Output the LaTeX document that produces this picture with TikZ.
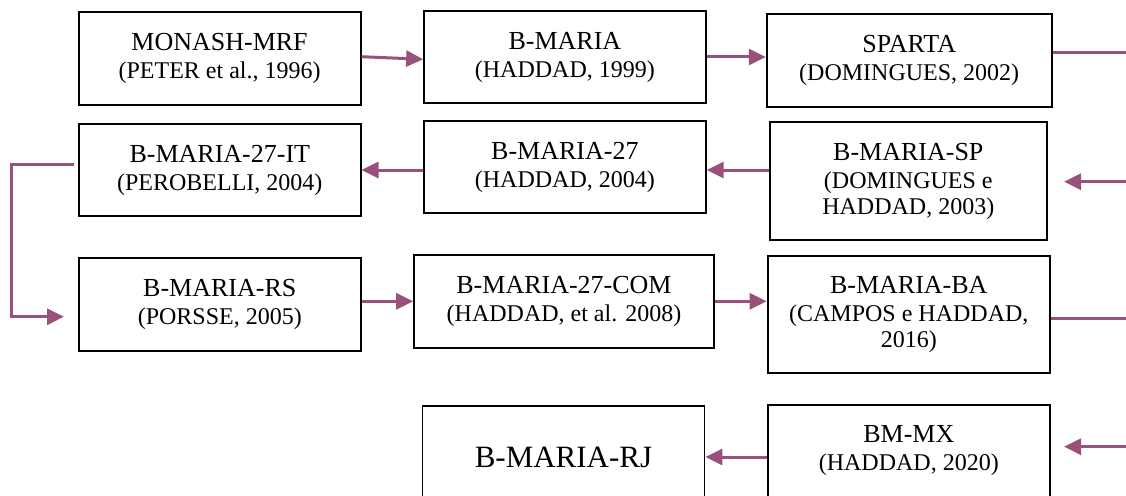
\documentclass[tikz,border=0pt]{standalone}
\usepackage{fontspec}
\setmainfont{Liberation Serif}
\usetikzlibrary{arrows.meta,calc}

\definecolor{linkcol}{RGB}{153,80,122}

\tikzset{
  model/.style={draw=black, line width=1.8pt, align=center, inner sep=2pt,
    minimum width=282pt, minimum height=93pt, font=\fontsize{24}{26}\selectfont},
  link/.style={draw=linkcol, line width=3pt, -{Triangle[length=17pt,width=16pt]}},
  plainlink/.style={draw=linkcol, line width=3pt},
}
\newcommand{\mtitle}[1]{{\fontsize{26}{26}\selectfont #1}\\[2pt]}

\begin{document}
\begin{tikzpicture}[x=1pt,y=-1pt]
        \useasboundingbox (0,0) rectangle (1126,495);
        \clip (0,0) rectangle (1126,495);

        \node[model, minimum height=93.3pt] (monash) at (219.6,58.4) {\mtitle{MONASH-MRF}(PETER et al., 1996)};
        \node[model, minimum width=281.7pt, minimum height=92.6pt] (bmaria) at (564.9,57) {\mtitle{B-MARIA}(HADDAD, 1999)};
        \node[model, minimum width=285pt] (sparta) at (909.2,60.8) {\mtitle{SPARTA}(DOMINGUES, 2002)};

        \node[model, minimum width=281.7pt, minimum height=92pt] (it) at (219.8,170) {\mtitle{B-MARIA-27-IT}(PEROBELLI, 2004)};
        \node[model, minimum width=281.7pt, minimum height=92.6pt] (b27) at (564.9,167) {\mtitle{B-MARIA-27}(HADDAD, 2004)};
        \node[model, minimum width=276.7pt, minimum height=117.7pt] (sp) at (908.3,181.2) {\mtitle{B-MARIA-SP}(DOMINGUES e\\HADDAD, 2003)};

        \node[model, minimum width=281.7pt, minimum height=92.7pt] (rs) at (219.8,304.3) {\mtitle{B-MARIA-RS}(PORSSE, 2005)};
        \node[model, minimum width=300pt, minimum height=92.7pt] (com) at (564,301.3) {\mtitle{B-MARIA-27-COM}(HADDAD, et al. 2008)};
        \node[model, minimum width=282.4pt, minimum height=117.6pt] (ba) at (908.8,314.5) {\mtitle{B-MARIA-BA}(CAMPOS e HADDAD,\\2016)};

        \node[model, minimum height=102pt, font=\fontsize{31}{34}\selectfont] (rj) at (563.5,457) {B-MARIA-RJ};
        \node[model, minimum width=282.4pt, minimum height=92pt] (mx) at (908.8,451) {\mtitle{BM-MX}(HADDAD, 2020)};

        \coordinate (edgeA) at (1126,52.7);
        \coordinate (edgeB) at (1126,181.7);
        \coordinate (tipB) at (1064,181.7);
        \coordinate (edgeC) at (1126,318.3);
        \coordinate (edgeD) at (1126,446.7);
        \coordinate (tipD) at (1064,446.7);
        \coordinate (loopS) at (74,164);
        \coordinate (loopL) at (11.7,164);
        \coordinate (tipL) at (64,316.7);

        \draw[link] ([yshift=1.7pt]monash.east) -- ([yshift=-2.3pt]bmaria.west);
        \draw[link] (bmaria.east) -- (bmaria.east -| sparta.west);
        \draw[plainlink] (sparta.east |- edgeA) -- (edgeA);

        \draw[link] (edgeB) -- (tipB);
        \draw[link] (sp.west |- it.east) -- (b27.east |- it.east);
        \draw[link] (b27.west |- it.east) -- (it.east);
        \draw[link] (loopS) -- (loopL) |- (tipL);

        \draw[link] (rs.east |- com.west) -- (com.west);
        \draw[link] (com.east) -- (com.east -| ba.west);
        \draw[plainlink] (ba.east |- edgeC) -- (edgeC);

        \draw[link] (edgeD) -- (tipD);
        \draw[link] (mx.west |- rj.east) -- (rj.east);
\end{tikzpicture}
\end{document}
